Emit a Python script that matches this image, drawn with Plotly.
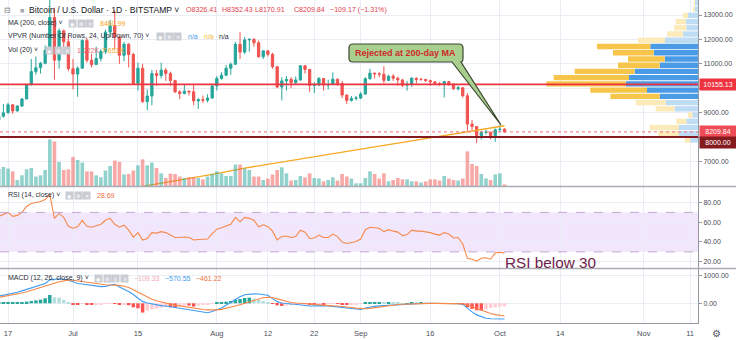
import plotly.graph_objects as go
import pandas as pd

# ---------------- data ----------------
dates = pd.date_range("2019-06-15", "2019-10-02", freq="D")

opens = [
    8690, 8850, 8990, 9320, 9070, 9270, 9560, 10160, 10680, 10840, 11020, 11550, 12900, 11150, 12350, 11900,
    10800, 10580, 10820, 11960, 11150, 10970, 11220, 11500, 12300, 12560, 12100, 11350, 11800, 11380, 10200, 10820,
    9450, 9680, 10600, 10520, 10740, 10600, 10320, 9850, 9780, 9880, 9850, 9480, 9530, 9510, 9600,
    10090, 10400, 10530, 10820, 10980, 11800, 11480, 11980, 12000, 11860, 11290, 11530, 11390, 10880, 10050, 10300,
    10360, 10230, 10340, 10920, 10770, 10120, 10130, 10400, 10140, 10150, 10370, 10190, 9720, 9500, 9580,
    9600, 9760, 10390, 10620, 10590, 10570, 10320, 10490, 10410, 10340, 10120, 10160, 10410, 10360, 10360, 10310,
    10260, 10190, 10160, 10270, 10170, 9980, 10020, 9690, 8530, 8430, 8060, 8190, 8200, 8050,
    8300, 8326.41]
highs = [
    8900, 9350, 9400, 9340, 9300, 9600, 10180, 11200, 11300, 11080, 11750, 13880, 13300, 12450, 12400, 12150,
    11200, 10900, 12000, 12050, 11400, 11700, 11600, 12400, 12800, 13200, 12100, 11900, 11850, 11450, 11050, 11000,
    9950, 10750, 10750, 11050, 10820, 10680, 10320, 9920, 10150, 9900, 10180, 9600, 9700, 9750, 10150,
    10500, 10650, 10950, 11050, 11900, 12300, 12100, 12050, 12050, 11950, 11550, 11550, 11450, 10900, 10450, 10500,
    10460, 10480, 10950, 10950, 10780, 10250, 10450, 10420, 10350, 10650, 10400, 10300, 9730, 9680, 9680,
    9850, 10450, 10800, 10630, 10650, 10900, 10550, 10580, 10470, 10380, 10300, 10450, 10440, 10420, 10380, 10350,
    10270, 10250, 10300, 10280, 10180, 10100, 10030, 9800, 8700, 8450, 8250, 8300, 8220, 8350,
    8500, 8352.43]
lows = [
    8600, 8800, 8970, 8950, 9040, 9230, 9550, 10100, 10560, 10600, 10980, 11500, 10350, 10800, 11400, 10700,
    9950, 9650, 10800, 11050, 10850, 10970, 11100, 11400, 12100, 11600, 11000, 11100, 10850, 10150, 9900, 9400,
    9100, 9300, 10100, 10400, 10300, 10100, 9800, 9550, 9750, 9700, 9300, 9150, 9400, 9420, 9570,
    9900, 10350, 10500, 10550, 10980, 11200, 11400, 11500, 11700, 11250, 11200, 11300, 10800, 10000, 9500, 9900,
    10000, 10150, 10300, 10600, 9850, 9800, 10080, 9900, 9950, 10150, 10100, 9600, 9350, 9450, 9500,
    9550, 9740, 10350, 10400, 10450, 10200, 10300, 10300, 10100, 10050, 9900, 10050, 10200, 10300, 10260, 10100,
    10150, 10100, 9620, 10100, 9920, 9900, 9620, 8250, 8250, 7750, 7900, 8100, 7900, 7800,
    8200, 8170.91]
closes = [
    8850, 8990, 9320, 9070, 9270, 9560, 10160, 10680, 10840, 11020, 11550, 12900, 11150, 12350, 11900, 10800,
    10580, 10820, 11960, 11150, 10970, 11220, 11500, 12300, 12560, 12100, 11350, 11800, 11380, 10200, 10820, 9450,
    9680, 10600, 10520, 10740, 10600, 10320, 9850, 9780, 9880, 9850, 9480, 9530, 9510, 9600, 10090,
    10400, 10530, 10820, 10980, 11800, 11480, 11980, 12000, 11860, 11290, 11530, 11390, 10880, 10050, 10300, 10360,
    10230, 10340, 10920, 10770, 10120, 10130, 10400, 10140, 10150, 10370, 10190, 9720, 9500, 9580, 9600,
    9760, 10390, 10620, 10590, 10570, 10320, 10490, 10410, 10340, 10120, 10160, 10410, 10360, 10360, 10310, 10260,
    10190, 10160, 10270, 10170, 9980, 10020, 9690, 8530, 8430, 8060, 8190, 8200, 8050, 8300,
    8319.01, 8209.84]
volume_k = [
    12.8, 14.3, 13.1, 11.0, 4.5, 8.0, 12.5, 13.5, 7.1, 8.0, 12.0, 35.0, 33.5, 18.0, 12.0, 12.5,
    21.8, 19.5, 17.6, 11.0, 11.0, 8.0, 6.5, 11.6, 15.0, 19.1, 18.0, 8.7, 9.0, 11.6, 15.5, 20.0,
    15.5, 17.6, 13.5, 9.5, 6.0, 9.3, 9.0, 7.1, 6.0, 6.5, 6.5, 6.0, 5.0, 7.1, 9.0,
    11.0, 9.5, 7.5, 7.5, 16.1, 16.1, 13.1, 12.0, 7.1, 7.1, 4.5, 5.6, 8.6, 12.0, 14.0, 9.5,
    4.1, 4.5, 7.5, 6.5, 9.5, 6.0, 5.6, 3.5, 4.5, 6.5, 4.1, 9.0, 7.1, 5.6, 2.0,
    2.0, 6.0, 11.0, 9.0, 5.6, 9.5, 3.5, 4.5, 6.0, 5.0, 5.0, 3.5, 3.5, 2.6, 3.5, 5.0,
    5.0, 4.1, 7.5, 5.6, 4.5, 4.1, 5.6, 26.0, 16.5, 15.0, 9.0, 5.7, 4.5, 8.7,
    9.5, 1.222]

ma_dates = ["2019-07-10", "2019-07-17", "2019-07-24", "2019-07-31", "2019-08-07", "2019-08-14",
            "2019-08-21", "2019-08-28", "2019-09-04", "2019-09-11", "2019-09-18", "2019-09-25", "2019-10-02"]
ma200 = [5780, 6004, 6240, 6470, 6725, 6950, 7170, 7390, 7600, 7810, 8020, 8240, 8460.99]

rsi = [
    66, 68, 70, 66, 67, 70, 76, 79, 80, 81, 83, 88, 64, 69, 65, 56,
    54, 55.5, 62, 56, 55, 56.5, 58, 62, 64, 58, 55, 57, 52, 45, 49.5, 42,
    43.5, 49.5, 49, 50.5, 49.5, 47, 44.5, 44.5, 45, 44.5, 42, 42.5, 42.5, 43, 48.5,
    53, 54.5, 56.5, 58, 65, 60.5, 65, 64, 62, 55.5, 57.5, 55.5, 51, 42, 45.5, 46,
    44.5, 45.5, 52, 50, 43.5, 44, 47, 44.5, 44.5, 48, 45.5, 40, 38.5, 39.5, 40.5,
    43, 52.5, 55, 54.5, 54, 50.5, 52.5, 51, 50, 46.5, 47.5, 52, 51, 51, 50.5, 49.5,
    48, 47, 49.5, 48, 44, 44.5, 38, 23.5, 22.5, 20.5, 23.5, 24, 22.5, 29,
    29.5, 28.69]

macd = [
    260, 290, 330, 360, 400, 450, 500, 560, 610, 650, 720, 850, 880, 890, 870, 840,
    780, 720, 700, 680, 660, 630, 605, 615, 640, 690, 590, 520, 430, 320, 180, 60,
    10, -30, -60, -85, -100, -125, -150, -180, -210, -240, -270, -300, -325, -340, -300,
    -240, -170, -70, 40, 150, 240, 310, 330, 340, 337, 320, 290, 170, 60, 10, -15,
    -25, -35, -45, -80, -100, -95, -75, -85, -95, -115, -130, -160, -185, -205, -220,
    -225, -170, -130, -110, -95, -85, -70, -55, -40, -30, -20, -10, -5, 0, 0, 0,
    -2, -5, -5, -8, -12, -15, -40, -180, -310, -420, -490, -540, -560, -570,
    -572, -570.55]
signal = [
    217, 245, 275, 305, 337, 375, 420, 470, 510, 555, 600, 660, 725, 780, 820, 840,
    835, 810, 785, 760, 730, 705, 685, 670, 665, 665, 650, 620, 570, 490, 400, 300,
    220, 150, 95, 45, 5, -30, -65, -95, -125, -150, -180, -205, -225, -240, -245,
    -240, -220, -185, -145, -100, -50, 5, 60, 115, 170, 200, 220, 210, 160, 110, 70,
    30, 10, -5, -30, -45, -55, -70, -80, -88, -95, -100, -110, -130, -150, -175,
    -195, -200, -185, -160, -130, -100, -80, -60, -45, -35, -25, -18, -12, -8, -5, -3,
    -3, -4, -5, -6, -8, -10, -20, -60, -120, -190, -260, -320, -370, -410,
    -440, -461.22]
hist = [
    24, 36, 36, 36, 36, 48, 60, 84, 108, 132, 180, 300, 216, 204, 120, 36,
    -36, -36, -24, -48, -60, -48, -36, -24, -12, -24, -48, -36, -72, -144, -180, -336,
    -264, -216, -192, -156, -132, -144, -156, -108, -84, -84, -120, -84, -60, -48, -24,
    24, 36, 60, 84, 132, 156, 192, 204, 168, 120, 84, 48, -12, -72, -96, -84,
    -60, -48, -12, -24, -48, -60, -36, -36, -24, -12, -24, -48, -60, -48, -36,
    -24, 12, 36, 36, 36, 24, 24, 18, 12, 6, 6, 18, 12, 12, 6, 6,
    -6, -12, -12, -12, -24, -24, -60, -144, -204, -252, -264, -216, -168, -144,
    -120, -109.33]

# volume profile (24 rows, bottom -> top), up / down volume
vp_up = [7.7, 19, 19, 11.7, 5.7, 23.3, 32.3, 38.3, 51, 72.3, 69, 63.3,
         38.3, 33.3, 44.3, 47.7, 33, 15, 11.7, 12.3, 10, 3.3, 3, 1.5]
vp_down = [5.6, 21, 29.3, 10, 4.3, 19, 30, 49.3, 56.7, 79.3, 75.3, 60,
           41.7, 36.7, 40.7, 53.3, 27, 16, 12.3, 10, 5, 1.7, 1, 0.5]

tick_dates = ["2019-06-17", "2019-07-01", "2019-07-15", "2019-08-01", "2019-08-12", "2019-08-22",
              "2019-09-01", "2019-09-16", "2019-10-01", "2019-10-14", "2019-11-01", "2019-11-11"]
tick_text = ["17", "Jul", "15", "Aug", "12", "22", "Sep", "16", "Oct", "14", "Nov", "11"]
price_ticks = [7000, 8000, 9000, 10000, 11000, 12000, 13000]
rsi_ticks = [20, 40, 60, 80]
macd_ticks = [0, 1000]
rsi_bounds = [30, 70]
key_level = 10155.13
support_level = 8000.00
vol_now_txt, vol_ma_txt = "1.222K", "7.651K"

# ---------------- styling / geometry ----------------
FONT = "Liberation Sans, Arial, sans-serif"
UP, DN = "#26a69a", "#ef5350"
GRID = "#eaeef4"
AXIS = "#9598a1"
TXT = "#4a4e59"
PW, PH = 698, 323          # plot area in px (full width minus price scale)
DAY = 86400000


def xp(px):
    return px / PW


def yp(py):
    return 1 - py / PH


fig = go.Figure()

# candles
fig.add_trace(go.Candlestick(
    x=dates, open=opens, high=highs, low=lows, close=closes,
    increasing=dict(line=dict(color=UP, width=1), fillcolor=UP),
    decreasing=dict(line=dict(color=DN, width=1), fillcolor=DN),
    whiskerwidth=0, xaxis="x", yaxis="y", hoverinfo="skip"))

# volume
vol_colors = ["rgba(38,166,154,0.5)" if c >= o else "rgba(239,83,80,0.5)" for o, c in zip(opens, closes)]
fig.add_trace(go.Bar(x=dates, y=volume_k, marker=dict(color=vol_colors, line=dict(width=0)),
                     width=DAY * 0.78, xaxis="x", yaxis="y4", hoverinfo="skip"))

# 200 MA
fig.add_trace(go.Scatter(x=ma_dates, y=ma200, mode="lines", line=dict(color="#f7a823", width=1.3),
                         xaxis="x", yaxis="y", hoverinfo="skip"))

# volume profile
lo, hi = min(lows), max(highs)
step = (hi - lo) / len(vp_up)
centers = [lo + (i + 0.5) * step for i in range(len(vp_up))]
tot = [u + d for u, d in zip(vp_up, vp_down)]
poc = max(range(len(tot)), key=lambda i: tot[i])
va = {poc}
a = b = poc
acc = tot[poc]
target = 0.70 * sum(tot)
while acc < target:
    below = tot[a - 1] if a > 0 else -1
    above = tot[b + 1] if b < len(tot) - 1 else -1
    if above >= below:
        b += 1
        acc += tot[b]
        va.add(b)
    else:
        a -= 1
        acc += tot[a]
        va.add(a)
up_cols = ["#4a9be6" if i in va else "#bfdcf5" for i in range(len(tot))]
dn_cols = ["#f7c54a" if i in va else "#fdeab9" for i in range(len(tot))]
fig.add_trace(go.Bar(y=centers, x=vp_up, base=[0] * len(vp_up), orientation="h", width=step * 0.86,
                     marker=dict(color=up_cols, line=dict(width=0)), xaxis="x2", yaxis="y", hoverinfo="skip"))
fig.add_trace(go.Bar(y=centers, x=vp_down, base=vp_up, orientation="h", width=step * 0.86,
                     marker=dict(color=dn_cols, line=dict(width=0)), xaxis="x2", yaxis="y", hoverinfo="skip"))

# RSI
fig.add_trace(go.Scatter(x=dates, y=rsi, mode="lines", line=dict(color="#f6884a", width=1.1),
                         xaxis="x", yaxis="y2", hoverinfo="skip"))

# MACD
hcols = []
for i, h in enumerate(hist):
    p = hist[i - 1] if i > 0 else h
    if h >= 0:
        hcols.append("#26a69a" if h >= p else "#b2dfdb")
    else:
        hcols.append("#ffcdd2" if h > p else "#ff5252")
fig.add_trace(go.Bar(x=dates, y=hist, marker=dict(color=hcols, line=dict(width=0)), width=DAY * 0.75,
                     xaxis="x", yaxis="y3", hoverinfo="skip"))
fig.add_trace(go.Scatter(x=dates, y=macd, mode="lines", line=dict(color="#3d9bf2", width=1.1),
                         xaxis="x", yaxis="y3", hoverinfo="skip"))
fig.add_trace(go.Scatter(x=dates, y=signal, mode="lines", line=dict(color="#f6884a", width=1.1),
                         xaxis="x", yaxis="y3", hoverinfo="skip"))

# ---------------- axes ----------------
ytick_common = dict(side="right", showgrid=True, gridcolor=GRID, showline=True, linecolor=AXIS, linewidth=1,
                    ticks="outside", ticklen=3, tickcolor=AXIS, zeroline=False,
                    tickfont=dict(size=7, color=TXT, family=FONT), anchor="x", fixedrange=True)
# price labels hidden where the level tags sit on top of them
covered = {8000, 10000}
price_text = ["" if v in covered else f"{v:.2f}" for v in price_ticks]
fig.update_layout(
    width=736, height=340, autosize=False,
    margin=dict(l=0, r=736 - PW, t=0, b=340 - PH),
    paper_bgcolor="white", plot_bgcolor="white",
    showlegend=False, barmode="overlay", hovermode=False,
    font=dict(family=FONT),
    xaxis=dict(domain=[0, 1], anchor="y3", type="date",
               range=["2019-06-15 06:24", "2019-11-12 16:48"],
               tickvals=tick_dates, ticktext=tick_text, showgrid=True, gridcolor=GRID,
               showline=True, linecolor=AXIS, linewidth=1, ticks="", zeroline=False,
               ticklabelstandoff=3,
               tickfont=dict(size=7.5, color=TXT, family=FONT), rangeslider=dict(visible=False),
               fixedrange=True),
    xaxis2=dict(overlaying="x", anchor="y", range=[PW, 0], visible=False, fixedrange=True),
    yaxis=dict(domain=[yp(186), 1], range=[5992, 13615], tickvals=price_ticks, ticktext=price_text,
               **ytick_common),
    yaxis2=dict(domain=[yp(268), yp(187)], range=[13.6, 95.8], tickvals=rsi_ticks,
                ticktext=[f"{v:.2f}" for v in rsi_ticks], **ytick_common),
    yaxis3=dict(domain=[0, yp(269)], range=[-714, 1243], tickvals=macd_ticks,
                ticktext=[f"{v:.2f}" for v in macd_ticks], **ytick_common),
    yaxis4=dict(overlaying="y", anchor="x", range=[0, 139.5], visible=False, fixedrange=True),
)

# ---------------- shapes ----------------
shapes = []
# RSI band
shapes.append(dict(type="rect", xref="paper", x0=0, x1=1, yref="y2", y0=rsi_bounds[0], y1=rsi_bounds[1],
                   fillcolor="rgba(150,60,230,0.13)", line=dict(width=0), layer="below"))
for v in rsi_bounds:
    shapes.append(dict(type="line", xref="paper", x0=0, x1=1, yref="y2", y0=v, y1=v,
                       line=dict(color="#c3a6d3", width=1, dash="dash")))
# key levels
shapes.append(dict(type="line", xref="paper", x0=0, x1=1, yref="y", y0=key_level, y1=key_level,
                   line=dict(color="#ee3340", width=1.6), layer="above"))
shapes.append(dict(type="line", xref="paper", x0=0, x1=1, yref="y", y0=closes[-1], y1=closes[-1],
                   line=dict(color="#f26d78", width=1, dash="dot"), layer="above"))
shapes.append(dict(type="line", xref="paper", x0=0, x1=1, yref="y", y0=support_level, y1=support_level,
                   line=dict(color="#861b1f", width=2.2), layer="above"))
# pane separators
for sy in (186.5, 268.5):
    shapes.append(dict(type="line", xref="paper", x0=0, x1=736 / PW, yref="paper", y0=yp(sy), y1=yp(sy),
                       line=dict(color="#a9acb5", width=1.5), layer="above"))


# callout box + pointer
def pth(cmds):
    out = []
    for c in cmds:
        if c[0] in "ML":
            out.append(f"{c[0]} {xp(c[1]):.5f},{yp(c[2]):.5f}")
        elif c[0] == "Q":
            out.append(f"Q {xp(c[1]):.5f},{yp(c[2]):.5f} {xp(c[3]):.5f},{yp(c[4]):.5f}")
        else:
            out.append("Z")
    return " ".join(out)


L, R, T, B, r = 349, 463, 44, 62, 4
callout = pth([("M", L + r, T), ("L", R - r, T), ("Q", R, T, R, T + r), ("L", R, B - r), ("Q", R, B, R - 2, B),
               ("L", 501, 125), ("L", 452, B), ("L", L + r, B), ("Q", L, B, L, B - r), ("L", L, T + r),
               ("Q", L, T, L + r, T), ("Z",)])
shapes.append(dict(type="path", xref="paper", yref="paper", path=callout, fillcolor="#a9cf8f",
                   line=dict(color="#3a482f", width=1.2), layer="above"))
fig.update_layout(shapes=shapes)

# ---------------- annotations ----------------
ann = []


def txt(x, y, s, color, size=7, bold=False, anchor="left"):
    ann.append(dict(x=xp(x), y=yp(y), xref="paper", yref="paper", xanchor=anchor, yanchor="middle",
                    text=f"<b>{s}</b>" if bold else s, showarrow=False,
                    font=dict(size=size, color=color, family=FONT)))


def icons(x0, y, n):
    glyphs = ["◉", "⚙", "{}", "✕"] if n == 4 else ["◉", "⚙", "✕"]
    for k, g in enumerate(glyphs):
        ann.append(dict(x=xp(x0 + k * 8.6), y=yp(y), xref="paper", yref="paper", xanchor="left",
                        yanchor="middle", text=g, showarrow=False, width=7, height=7, borderpad=0,
                        bgcolor="#c9ccd3", font=dict(size=5, color="white", family=FONT)))


RED_T = "#e2434e"
CARET = "˅"
chg = closes[-1] - closes[-2]
pct = chg / closes[-2] * 100
txt(2, 10, "⊟", "#787b86", 8)
txt(18, 10, "■", "#a3a6ae", 7)
txt(27, 10, f"Bitcoin / U.S. Dollar · 1D · BITSTAMP {CARET}", "#131722", 8.6)
txt(184, 10, f"O{opens[-1]:.2f}", RED_T, 7.1)
txt(220, 10, f"H{highs[-1]:.2f}", RED_T, 7.1)
txt(253, 10, f"L{lows[-1]:.2f}", RED_T, 7.1)
txt(292, 10, f"C{closes[-1]:.2f}", RED_T, 7.1)
txt(328, 10, f"−{abs(chg):.2f} (−{abs(pct):.2f}%)", RED_T, 7.1)

txt(6, 23.5, f"MA (200, close) {CARET}", "#2a2e39", 7)
icons(68, 23.5, 3)
txt(98, 23.5, f"{ma200[-1]:.2f}", "#f5a623", 7)

txt(6, 36.5, f"VPVR (Number Of Rows, 24, Up/Down, 70) {CARET}", "#2a2e39", 7)
icons(156, 36.5, 3)
txt(186, 36.5, "n/a", "#4a9be6", 7)
txt(202, 36.5, "n/a", "#f5b82e", 7)
txt(217, 36.5, "n/a", "#2a2e39", 7)

txt(6, 50, f"Vol (20) {CARET}", "#2a2e39", 7)
icons(45, 50, 3)
txt(75, 50, vol_now_txt, "#ef6b73", 7)
txt(100, 50, vol_ma_txt, "#f5a623", 7)

txt(6, 195, f"RSI (14, close) {CARET}", "#2a2e39", 7)
icons(65, 195, 3)
txt(95, 195, f"{rsi[-1]:.2f}", "#f0703c", 7)

txt(6, 278, f"MACD (12, 26, close, 9) {CARET}", "#2a2e39", 7)
icons(94, 278, 4)
txt(132, 278, f"−{abs(hist[-1]):.2f}", "#f5a9b4", 7)
txt(163, 278, f"−{abs(macd[-1]):.2f}", "#3d9bf2", 7)
txt(194, 278, f"−{abs(signal[-1]):.2f}", "#f0703c", 7)

txt(406, 53, "Rejected at 200-day MA", "#cc2a2a", 9, bold=True, anchor="center")
txt(503, 262, "RSI below 30", "#6f1d4b", 15.3)
txt(716, 333, "⚙", "#50535e", 10, anchor="center")


def tag(val, bg, shift=0):
    ann.append(dict(x=1, xref="paper", y=val, yref="y", xanchor="left", yanchor="middle",
                    text=f"{val:.2f}", showarrow=False, font=dict(size=7, color="white", family=FONT),
                    bgcolor=bg, borderpad=0, width=36, height=11, xshift=1, yshift=shift))


tag(key_level, "#ee3340")
tag(closes[-1], "#ef4b57")
tag(support_level, "#861b1f", -5)

fig.update_layout(annotations=ann)

fig.write_html("out.html", config={"displayModeBar": False})
